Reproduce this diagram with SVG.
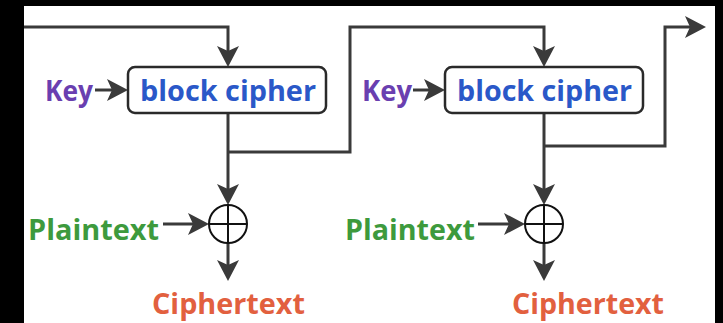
<svg xmlns="http://www.w3.org/2000/svg" width="723" height="323" viewBox="0 0 723 323">
<style>
.ln{fill:none;stroke:#3a3a3a;stroke-width:3;}
.box{fill:#fff;stroke:#2a2a2a;stroke-width:2.5;}
.xor{fill:#fff;stroke:#111;stroke-width:2;}
.t{font-family:"Open Sans","Noto Sans","Liberation Sans",sans-serif;font-weight:bold;font-size:28.5px;}
.key{fill:#6a3fb0;}
.bc{fill:#2a58c8;}
.pt{fill:#3d9a3d;}
.ct{fill:#e2603f;}
</style>
<defs>
<marker id="ah" viewBox="-22 -12 23 24" refX="-4" refY="0" markerWidth="23" markerHeight="24" markerUnits="userSpaceOnUse" orient="auto">
<path d="M0,0 L-21,-11 L-16,0 L-21,11 Z" fill="#3a3a3a"/>
</marker>
</defs>
<rect x="0" y="0" width="723" height="323" fill="#fff"/>
<g id="connectors">
<path class="ln" d="M0,27 H228 V63" marker-end="url(#ah)"/>
<path class="ln" d="M95,90 H124" marker-end="url(#ah)"/>
<path class="ln" d="M228,113 V201" marker-end="url(#ah)"/>
<path class="ln" d="M228,152 H350 V27 H544 V63" marker-end="url(#ah)"/>
<path class="ln" d="M163,224 H205" marker-end="url(#ah)"/>
<path class="ln" d="M228,243 V277" marker-end="url(#ah)"/>
<path class="ln" d="M413,90 H441" marker-end="url(#ah)"/>
<path class="ln" d="M544,113 V201" marker-end="url(#ah)"/>
<path class="ln" d="M544,146 H665 V27 H702" marker-end="url(#ah)"/>
<path class="ln" d="M478,224 H521" marker-end="url(#ah)"/>
<path class="ln" d="M544,243 V277" marker-end="url(#ah)"/>
</g>
<g id="key1"><text class="t key" x="45" y="101" textLength="48" lengthAdjust="spacingAndGlyphs">Key</text></g>
<g id="cipher1">
<rect class="box" x="128" y="67" width="198" height="46" rx="7"/>
<text class="t bc" x="140" y="101" textLength="176" lengthAdjust="spacingAndGlyphs">block cipher</text>
</g>
<g id="xor1">
<circle class="xor" cx="228" cy="224" r="19"/>
<path class="xor" d="M209,224 H247 M228,205 V243"/>
</g>
<g id="plain1"><text class="t pt" x="28" y="240" textLength="131" lengthAdjust="spacingAndGlyphs">Plaintext</text></g>
<g id="cipherText1"><text class="t ct" x="152" y="314" textLength="153" lengthAdjust="spacingAndGlyphs">Ciphertext</text></g>
<g id="key2"><text class="t key" x="362" y="101" textLength="50" lengthAdjust="spacingAndGlyphs">Key</text></g>
<g id="cipher2">
<rect class="box" x="445" y="67" width="198" height="46" rx="7"/>
<text class="t bc" x="457" y="101" textLength="175" lengthAdjust="spacingAndGlyphs">block cipher</text>
</g>
<g id="xor2">
<circle class="xor" cx="544" cy="224" r="19"/>
<path class="xor" d="M525,224 H563 M544,205 V243"/>
</g>
<g id="plain2"><text class="t pt" x="345" y="240" textLength="130" lengthAdjust="spacingAndGlyphs">Plaintext</text></g>
<g id="cipherText2"><text class="t ct" x="512" y="314" textLength="152" lengthAdjust="spacingAndGlyphs">Ciphertext</text></g>
<g id="border">
<rect x="0" y="0" width="723" height="6" fill="#000"/>
<rect x="0" y="0" width="24" height="323" fill="#000"/>
<rect x="715" y="0" width="8" height="323" fill="#000"/>
</g>
</svg>
